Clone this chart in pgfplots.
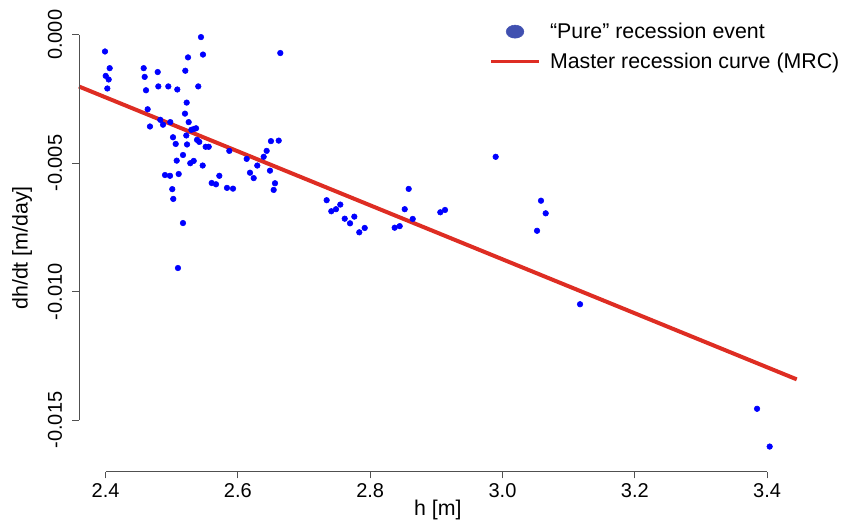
\documentclass[border=0pt]{standalone}
\usepackage{fontspec}
\setmainfont{Liberation Sans}
\usepackage{pgfplots}
\usepackage{pgfplotstable}
\pgfplotsset{compat=1.18}
\definecolor{ptblue}{RGB}{0,0,255}
\definecolor{mrcred}{RGB}{222,45,35}
\definecolor{legblue}{RGB}{64,80,176}
\definecolor{axgray}{RGB}{80,80,80}
\pgfplotsset{
  legmark/.style={legend image code/.code={\path (0pt,0pt) (36pt,0pt);\draw[mark repeat=2,mark phase=2,##1] plot coordinates {(0pt,0pt) (18pt,0pt) (36pt,0pt)};}},
  legline/.style={legend image code/.code={\draw[##1] (0pt,0pt) -- (36pt,0pt);}},
}

\pgfplotstableread{
x y
2.3991 -0.00065
2.4062 -0.00130
2.4002 -0.00160
2.4047 -0.00174
2.4026 -0.00209
2.4576 -0.00130
2.4591 -0.00164
2.4788 -0.00145
2.4611 -0.00216
2.4797 -0.00201
2.4948 -0.00201
2.5084 -0.00213
2.5442 -0.00009
2.5472 -0.00077
2.5246 -0.00088
2.5205 -0.00140
2.5401 -0.00201
2.6641 -0.00071
2.5226 -0.00264
2.4636 -0.00290
2.5200 -0.00307
2.4827 -0.00331
2.4868 -0.00350
2.4978 -0.00340
2.4671 -0.00357
2.5256 -0.00340
2.5296 -0.00370
2.5332 -0.00367
2.5367 -0.00364
2.5220 -0.00392
2.5019 -0.00399
2.5382 -0.00409
2.5416 -0.00417
2.5060 -0.00425
2.5231 -0.00427
2.5513 -0.00436
2.5559 -0.00436
2.5870 -0.00452
2.5170 -0.00468
2.5075 -0.00490
2.5280 -0.00500
2.5332 -0.00491
2.5468 -0.00509
2.4898 -0.00546
2.4974 -0.00549
2.5105 -0.00542
2.5719 -0.00549
2.5008 -0.00601
2.5023 -0.00639
2.5604 -0.00577
2.5669 -0.00582
2.5835 -0.00596
2.5926 -0.00599
2.6133 -0.00483
2.6183 -0.00537
2.6239 -0.00558
2.6293 -0.00509
2.6390 -0.00475
2.6435 -0.00452
2.6500 -0.00414
2.6617 -0.00412
2.6485 -0.00529
2.6561 -0.00578
2.6541 -0.00604
2.5170 -0.00733
2.5094 -0.00908
2.7342 -0.00644
2.7412 -0.00687
2.7483 -0.00679
2.7548 -0.00661
2.7615 -0.00716
2.7695 -0.00734
2.7760 -0.00708
2.7835 -0.00769
2.7917 -0.00752
2.8370 -0.00751
2.8446 -0.00745
2.8522 -0.00679
2.8582 -0.00600
2.8643 -0.00717
2.9060 -0.00691
2.9131 -0.00682
2.9897 -0.00475
3.0582 -0.00646
3.0653 -0.00695
3.0522 -0.00763
3.1172 -0.01049
3.3848 -0.01456
3.4039 -0.01603
}\events

\pgfplotstableread{
x y
2.3598 -0.002014
3.4448 -0.013414
}\mrc

\begin{document}
\begin{tikzpicture}
\path[use as bounding box] (0pt,0pt) rectangle (642pt,390pt);
\begin{axis}[
  at={(59.25pt,36.2pt)}, anchor=south west,
  scale only axis, width=538.3pt, height=335.8pt,
  xmin=2.3598, xmax=3.4448, ymin=-0.01701, ymax=0.00042,
  axis lines*=left, axis line style={draw=none},
  clip=false,
  tick align=outside, major tick length=5pt,
  tick style={axgray, line width=0.6pt},
  xtick={2.4,2.6,2.8,3.0,3.2,3.4},
  xticklabels={2.4,2.6,2.8,3.0,3.2,3.4},
  ytick={-0.015,-0.010,-0.005,0},
  yticklabels={-0.015,-0.010,-0.005,0.000},
  scaled x ticks=false, scaled y ticks=false,
  xticklabel style={font=\fontsize{15}{18}\selectfont, inner sep=0pt, anchor=north, yshift=-4pt},
  yticklabel style={font=\fontsize{15}{18}\selectfont, inner sep=0pt, rotate=90, anchor=south, yshift=7.5pt},
  xlabel={h [m]}, ylabel={dh/dt [m/day]},
  xlabel style={font=\fontsize{16}{19}\selectfont, at={(axis description cs:0.5,0)}, anchor=center, yshift=-28.5pt},
  ylabel style={font=\fontsize{16}{19}\selectfont, at={([xshift=-42.75pt]axis description cs:0,0.5)}, anchor=center},
  legend style={draw=none, fill=none, inner sep=0pt, font=\fontsize{16}{19}\selectfont,
    at={(axis description cs:0.5713,1.003)}, anchor=north west, column sep=7pt, row sep=9.5pt,
    nodes={inner sep=0pt}},
  legend cell align=left,
]
\addlegendimage{only marks, mark=*, legblue, mark size=4.9pt, mark options={xscale=1.35}, legmark}
\addlegendentry{“Pure” recession event}
\addlegendimage{mrcred, line width=2.6pt, legline}
\addlegendentry{Master recession curve (MRC)}

\addplot[only marks, mark=*, ptblue, mark size=2.1pt, forget plot] table {\events};
\addplot[mrcred, line width=3pt, forget plot] table {\mrc};

\draw[axgray, line width=0.6pt] (axis cs:2.4,-0.01701) -- (axis cs:3.4,-0.01701);
\draw[axgray, line width=0.6pt] (axis cs:2.3598,-0.015) -- (axis cs:2.3598,0);
\end{axis}
\end{tikzpicture}
\end{document}
